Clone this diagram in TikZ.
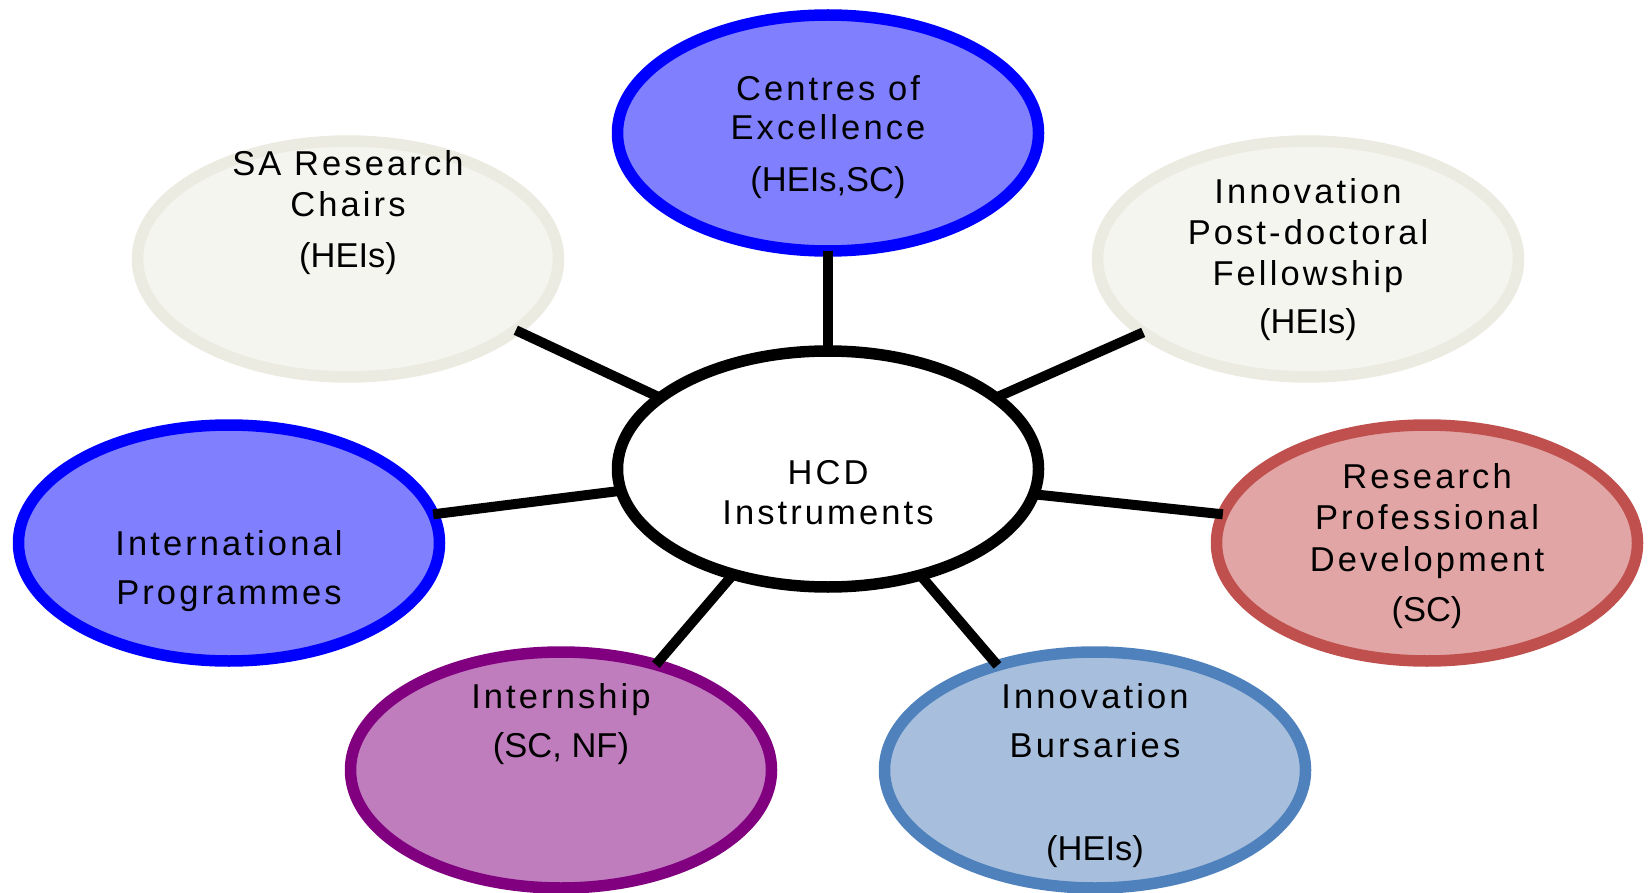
\documentclass[tikz,border=0pt]{standalone}
\usepackage{fontspec}
\setmainfont{Liberation Sans}
\newfontfamily\spacedfont[LetterSpace=9]{Liberation Sans}
\newfontfamily\tagfont{Liberation Sans}
\usepackage{xcolor}
\usetikzlibrary{shapes.geometric}
\definecolor{bluedraw}{HTML}{0000FF}
\definecolor{bluefill}{HTML}{8080FF}
\definecolor{beigedraw}{HTML}{ECEBE1}
\definecolor{beigefill}{HTML}{F5F5F0}
\definecolor{reddraw}{HTML}{C0504D}
\definecolor{redfill}{HTML}{E0A5A4}
\definecolor{purpledraw}{HTML}{800080}
\definecolor{purplefill}{HTML}{BF7DBD}
\definecolor{skydraw}{HTML}{4F81BD}
\definecolor{skyfill}{HTML}{A7BFDD}

\begin{document}
\begin{tikzpicture}[x=1pt,y=-1pt,line cap=butt,line join=round,
  bubble/.style={ellipse,minimum width=421pt,minimum height=236pt,inner sep=0pt,outer sep=0pt,line width=11.5pt},
  bluebubble/.style={bubble,draw=bluedraw,fill=bluefill},
  beigebubble/.style={bubble,draw=beigedraw,fill=beigefill},
  txt/.style={anchor=north,inner sep=0pt,align=center,text=black,font=\spacedfont\fontsize{34.5}{41}\selectfont},
  spoke/.style={line width=10pt,black}]
\useasboundingbox (0,0) rectangle (1649,893);
% ellipses
\node[bubble,draw=black,fill=white] (hcd) at (828,469) {};
\node[bluebubble] (coe) at (828,133) {};
\node[beigebubble] (chairs) at (348,259) {};
\node[beigebubble] (postdoc) at (1308,259) {};
\node[bubble,draw=reddraw,fill=redfill] (rpd) at (1427,543) {};
\node[bluebubble] (intl) at (229,543) {};
\node[bubble,draw=purpledraw,fill=purplefill] (intern) at (561,770) {};
\node[bubble,draw=skydraw,fill=skyfill] (burs) at (1095,770) {};
% spokes
\draw[spoke] (hcd.90) -- (coe.270);
\draw[spoke] (hcd.157) -- (chairs.-23);
\draw[spoke] (hcd.23) -- (postdoc.204);
\draw[spoke] (hcd.-7) -- (rpd.172);
\draw[spoke] (hcd.186) -- (intl.8);
\draw[spoke] (hcd.228) -- (intern.48);
\draw[spoke] (hcd.311) -- (burs.133);
% texts
\node[txt] (hcd-t) at (828,460) {HCD\\[-1pt]Instruments};
\node[txt] (coe-t) at (828,75) {Centres of\\[-2pt]Excellence\\[11pt]\tagfont (HEIs,SC)};
\node[txt] (chairs-t) at (348,150) {SA Research\\Chairs\\[10pt]\tagfont (HEIs)};
\node[txt] (postdoc-t) at (1308,178) {Innovation\\Post-doctoral\\Fellowship\\[7pt]\tagfont (HEIs)};
\node[txt] (rpd-t) at (1427,463) {Research\\Professional\\[1pt]Development\\[9pt]\tagfont (SC)};
\node[txt] (intl-t) at (229,530) {International\\[8pt]Programmes};
\node[txt] (intern-t) at (561,683) {Internship\\[8pt]\tagfont (SC, NF)};
\node[txt] (burs-t) at (1095,683) {Innovation\\[8pt]Bursaries\\[62pt]\tagfont (HEIs)};
\end{tikzpicture}
\end{document}
